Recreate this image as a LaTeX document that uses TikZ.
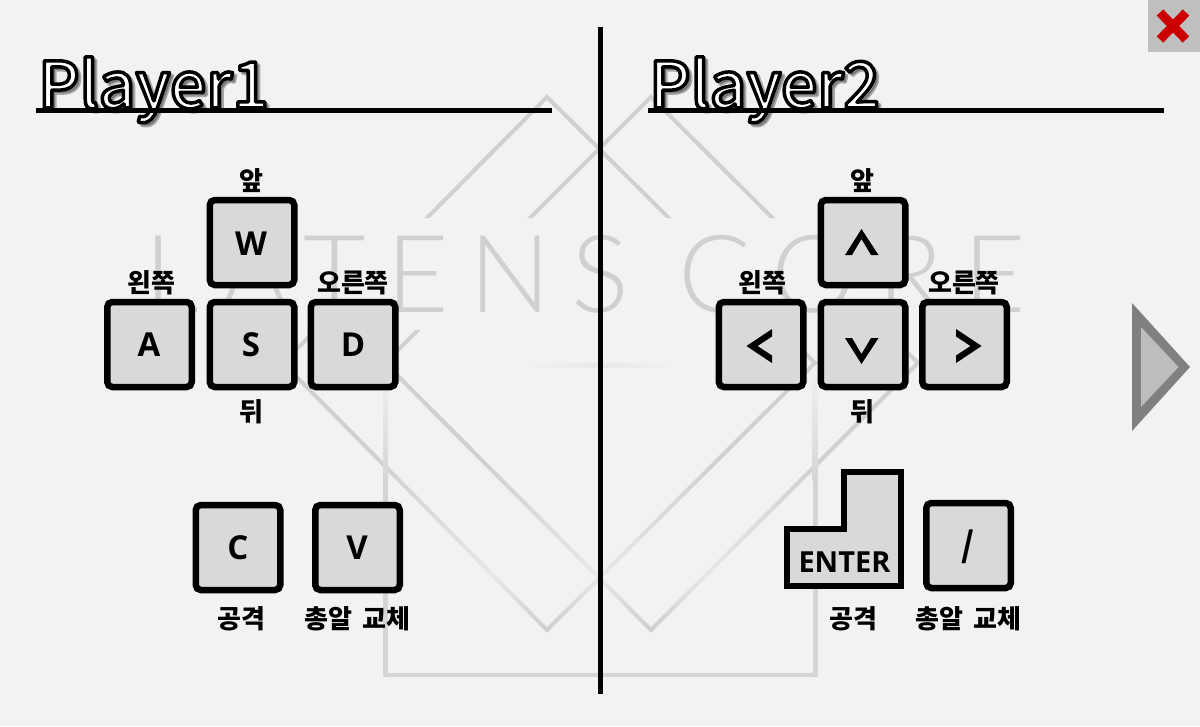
\documentclass[tikz,border=0pt]{standalone}
\usepackage{fontspec}
\usetikzlibrary{fadings,shadings}
\setmainfont{Open Sans}
\newfontfamily\krfont{Noto Sans CJK KR}
\newfontfamily\logofont{Lato Light}[LetterSpace=19]
\newfontfamily\titlefont{Noto Sans CJK KR Medium}
\definecolor{bgc}{HTML}{F2F2F2}
\definecolor{keyc}{HTML}{D9D9D9}
\definecolor{logoc}{HTML}{D0D0D0}
\newcommand{\outlined}[3]{\special{pdf:code 2 Tr #2 w 1 j #3 RG}#1\special{pdf:code 0 Tr 1 w 0 j}}
\tikzfading[name=fadedown, top color=transparent!100, bottom color=transparent!30]
\tikzfading[name=fadeup, top color=transparent!30, bottom color=transparent!100]
\tikzset{
  x=1pt,y=-1pt,
  keybox/.style={draw=black,fill=keyc,line width=6.5pt,rounded corners=5pt,inner sep=0pt,minimum width=84.5pt,minimum height=85pt},
  keytext/.style={inner sep=0pt,font=\fontsize{33}{36}\selectfont\bfseries},
  krlabel/.style={inner sep=0pt,font=\krfont\fontsize{26}{30}\selectfont\bfseries},
  title/.style={inner sep=0pt,anchor=base west,text=white,font=\titlefont\fontsize{64}{72}\selectfont},
  titleshadow/.style={title,text=black,opacity=.3},
  rule/.style={line width=5pt,black},
  logoline/.style={draw=logoc,line width=4pt},
  chevron/.style={fill=black},
}
\begin{document}
\begin{tikzpicture}
\useasboundingbox (0,0) rectangle (1200,726);
\fill[bgc] (0,0) rectangle (1200,726);
% logo
\begin{scope}
\clip (250,90) rectangle (950,218) (250,330) rectangle (950,640);
\draw[logoline,line join=miter] (547,97)--(283,363)--(547,630)--(815,363)--cycle;
\draw[logoline,line join=miter] (651,97)--(385,363)--(651,630)--(918,363)--cycle;
\end{scope}
\fill[bgc,path fading=fadedown] (270,460) rectangle (930,575);
\fill[bgc,path fading=fadeup] (270,575) rectangle (930,628);
\shade[top color=bgc,bottom color=logoc!85!bgc] (383,367) rectangle (388,480);
\shade[top color=bgc,bottom color=logoc!85!bgc] (812.5,367) rectangle (817.5,480);
\fill[logoc!85!bgc] (383,480) rectangle (388,677);
\fill[logoc!85!bgc] (812.5,480) rectangle (817.5,677);
\fill[logoc!85!bgc] (383,672.5) rectangle (817.5,677);
\shade[left color=bgc,right color=black!4!bgc] (520,363) rectangle (600,367);
\shade[left color=black!4!bgc,right color=bgc] (600,363) rectangle (680,367);
\node[inner sep=0pt,text=logoc] (logo) at (585,274) {\logofont\fontsize{108}{110}\selectfont LATENS CORE};
% titles
\node[titleshadow] (s1) at (41,111) {\outlined{Player1}{3.5}{0 0 0}};
\node[titleshadow] (s2) at (652,111) {\outlined{Player2}{3.5}{0 0 0}};
\node[title] (p1) at (38,108) {\outlined{Player1}{3.5}{0 0 0}};
\node[title] (p2) at (649,108) {\outlined{Player2}{3.5}{0 0 0}};
% rules
\draw[rule] (36,110.5)--(552,110.5);
\draw[rule] (648,110.5)--(1164,110.5);
\draw[rule] (600.5,27)--(600.5,694);
% left keys
\node[keybox] (w) at (252,242.5) {};
\node[keybox] (a) at (149.5,344.5) {};
\node[keybox] (s) at (252,344.5) {};
\node[keybox] (d) at (353,344.5) {};
\node[keybox] (c) at (238,547.5) {};
\node[keybox] (v) at (357.5,547.5) {};
\node[keytext] at (251,244) {W};
\node[keytext] at (149,345) {A};
\node[keytext] at (251,345) {S};
\node[keytext] at (353,345) {D};
\node[keytext] at (238,548) {C};
\node[keytext] at (357,548) {V};
% right keys
\node[keybox] (up) at (863,242.5) {};
\node[keybox] (lf) at (761,344.5) {};
\node[keybox] (dn) at (863,344.5) {};
\node[keybox] (rt) at (964.5,344.5) {};
\node[keybox] (sl) at (968.5,545.5) {};
\fill[chevron] (845,255)--(861.5,229)--(878.5,255)--(871,255)--(861.5,239)--(852,255)--cycle;
\fill[chevron] (845,338)--(861.5,364)--(878.5,338)--(871,338)--(861.5,354)--(852,338)--cycle;
\fill[chevron] (772,329)--(746.5,346)--(772,363)--(772,355.5)--(757.5,346)--(772,336.5)--cycle;
\fill[chevron] (956,329)--(981.5,346)--(956,363)--(956,355.5)--(970.5,346)--(956,336.5)--cycle;
\node[inner sep=0pt,font=\krfont\fontsize{34}{38}\selectfont\bfseries] (slash) at (968.5,547) {/};
\draw[fill=keyc,line width=6.5pt,line join=miter] (787,586)--(787,529)--(844,529)--(844,472)--(901,472)--(901,586)--cycle;
\node[keytext,font=\fontsize{29}{32}\selectfont\bfseries] (enter) at (844.5,562) {ENTER};
% labels
\node[krlabel] (l1) at (251,181) {앞};
\node[krlabel] (l2) at (151,283) {왼쪽};
\node[krlabel] (l3) at (353,283) {오른쪽};
\node[krlabel] (l4) at (251,412) {뒤};
\node[krlabel] (l5) at (241,619) {공격};
\node[krlabel] (l6) at (357.5,619) {총알\hspace{10pt}교체};
\node[krlabel] (r1) at (862,181) {앞};
\node[krlabel] (r2) at (762,283) {왼쪽};
\node[krlabel] (r3) at (964,283) {오른쪽};
\node[krlabel] (r4) at (862,412) {뒤};
\node[krlabel] (r5) at (853,619) {공격};
\node[krlabel] (r6) at (968.5,619) {총알\hspace{10pt}교체};
% close button
\fill[black!25] (1148,0) rectangle (1200,52);
\draw[line width=9pt,color=red!80!black] (1160,12.5)--(1186,39.5);
\draw[line width=9pt,color=red!80!black] (1186,12.5)--(1160,39.5);
% next arrow
\fill[black!50] (1132,303)--(1190,367)--(1132,431)--cycle;
\fill[black!26] (1141,327)--(1178.5,367)--(1141,407)--cycle;
\end{tikzpicture}
\end{document}
